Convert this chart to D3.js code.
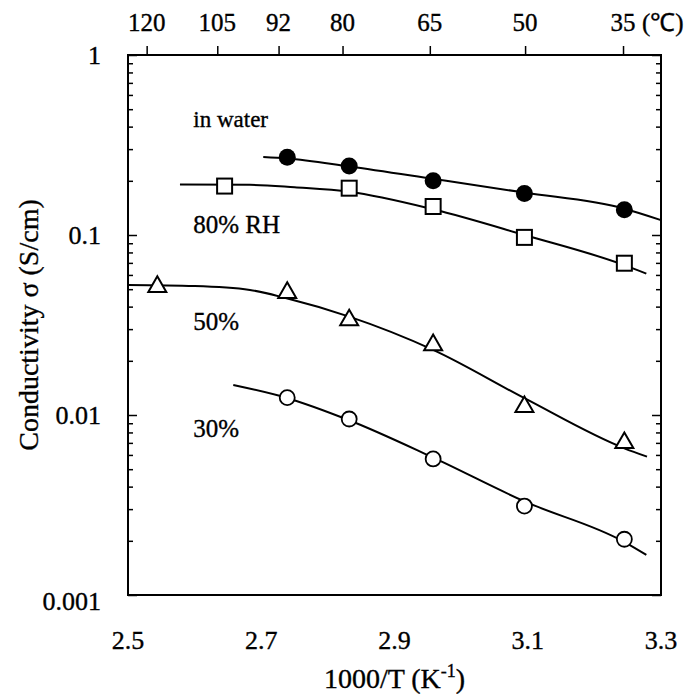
<!DOCTYPE html>
<html>
<head>
<meta charset="utf-8">
<script src="https://cdn.jsdelivr.net/npm/d3@7/dist/d3.min.js"></script>
<style>
  html, body { margin: 0; padding: 0; background: #fff; }
  svg text { font-family: "Liberation Serif", "Times New Roman", serif; fill: #000; stroke: #000; stroke-width: 0.35px; }
</style>
</head>
<body>
<div id="chart"></div>
<script>
// Conductivity vs inverse temperature, four humidity conditions

// measured points (x = 1000/T, y = S/cm)
const waterX = [2.739, 2.832, 2.958, 3.095, 3.245];
const waterY = [0.270, 0.242, 0.200, 0.170, 0.138];
const rh80X = [2.645, 2.832, 2.958, 3.095, 3.245];
const rh80Y = [0.187, 0.182, 0.144, 0.097, 0.0697];
const rh50X = [2.544, 2.739, 2.832, 2.958, 3.095, 3.245];
const rh50Y = [0.0516, 0.0478, 0.0337, 0.0245, 0.0111, 0.0070];
const rh30X = [2.739, 2.832, 2.958, 3.095, 3.245];
const rh30Y = [0.01248, 0.0095, 0.0057, 0.00312, 0.00204];

// fitted curves
const waterFitX = [2.703, 2.739, 2.832, 2.958, 3.095, 3.245, 3.300];
const waterFitY = [0.271, 0.266, 0.240, 0.205, 0.172, 0.140, 0.121];
const rh80FitX = [2.578, 2.683, 2.750, 2.832, 2.958, 3.095, 3.245, 3.278];
const rh80FitY = [0.191, 0.190, 0.184, 0.174, 0.139, 0.100, 0.068, 0.061];
const rh50FitX = [2.500, 2.600, 2.683, 2.738, 2.832, 2.958, 3.095, 3.245, 3.279];
const rh50FitY = [0.0527, 0.0520, 0.0495, 0.0445, 0.0352, 0.0230, 0.0124, 0.00653, 0.00587];
const rh30FitX = [2.658, 2.737, 2.831, 2.955, 3.096, 3.244, 3.278];
const rh30FitY = [0.01468, 0.01248, 0.00938, 0.00587, 0.00330, 0.00198, 0.00167];

// axes
const xTicks = [2.5, 2.7, 2.9, 3.1, 3.3];
const yTicks = [1, 0.1, 0.01, 0.001];
const yTickLabels = ['1', '0.1', '0.01', '0.001'];
const tempTickX = [2.528, 2.634, 2.726, 2.822, 2.953, 3.096, 3.243];
const tempLabels = ['120', '105', '92', '80', '65', '50', '35'];

// curve labels
const labelText = ['in water', '80% RH', '50%', '30%'];
const labelX = [2.598, 2.598, 2.598, 2.598];
const labelY = [0.40, 0.103, 0.0297, 0.0075];

const width = 689, height = 696;
const margin = { top: 55, right: 28, bottom: 101, left: 128 };
const innerW = width - margin.left - margin.right;
const innerH = height - margin.top - margin.bottom;

const svg = d3.select('#chart').append('svg')
  .attr('width', width)
  .attr('height', height);

const g = svg.append('g').attr('transform', `translate(${margin.left},${margin.top})`);

const x = d3.scaleLinear().domain([2.5, 3.3]).range([0, innerW]);
const y = d3.scaleLog().domain([0.001, 1]).range([innerH, 0]);

// frame
g.append('rect')
  .attr('x', 0).attr('y', 0)
  .attr('width', innerW).attr('height', innerH)
  .attr('fill', 'none')
  .attr('stroke', '#000')
  .attr('stroke-width', 2);

// log ticks on left and right, pointing inward
const minorVals = [];
for (let e = -3; e < 0; e++) {
  for (let m = 2; m <= 9; m++) minorVals.push(m * Math.pow(10, e));
}
const yLeft = d3.axisLeft(y).tickValues(yTicks).tickSize(-9).tickFormat('');
const yLeftMinor = d3.axisLeft(y).tickValues(minorVals).tickSize(-5).tickFormat('');
const yRight = d3.axisRight(y).tickValues(yTicks).tickSize(-9).tickFormat('');
const yRightMinor = d3.axisRight(y).tickValues(minorVals).tickSize(-5).tickFormat('');

[[yLeft, 0], [yLeftMinor, 0], [yRight, innerW], [yRightMinor, innerW]].forEach(([ax, tx]) => {
  const a = g.append('g').attr('transform', `translate(${tx},0)`).call(ax);
  a.select('.domain').remove();
  a.selectAll('line').attr('stroke', '#000').attr('stroke-width', 1.5);
});

// y labels
g.selectAll('text.ylab')
  .data(yTicks)
  .join('text')
  .attr('class', 'ylab')
  .attr('x', -27)
  .attr('y', (d, i) => y(d) + (i === 3 ? 15 : 9))
  .attr('text-anchor', 'end')
  .attr('font-size', 26)
  .text((d, i) => yTickLabels[i]);

// x labels
g.selectAll('text.xlab')
  .data(xTicks)
  .join('text')
  .attr('class', 'xlab')
  .attr('x', d => x(d))
  .attr('y', innerH + 54)
  .attr('text-anchor', 'middle')
  .attr('font-size', 26)
  .text(d => d3.format('.1f')(d));

// top temperature axis
const xTop = d3.axisTop(x).tickValues(tempTickX).tickSize(9).tickFormat('');
const topAx = g.append('g').call(xTop);
topAx.select('.domain').remove();
topAx.selectAll('line').attr('stroke', '#000').attr('stroke-width', 1.5);

g.selectAll('text.tlab')
  .data(tempTickX)
  .join('text')
  .attr('class', 'tlab')
  .attr('x', d => x(d))
  .attr('y', -24)
  .attr('text-anchor', 'middle')
  .attr('font-size', 25)
  .text((d, i) => tempLabels[i]);

g.append('text')
  .attr('x', x(tempTickX[6]) + 19)
  .attr('y', -24)
  .attr('font-size', 25)
  .text('(\u2103)');

// axis titles
svg.append('text')
  .attr('x', margin.left + innerW / 2)
  .attr('y', 688)
  .attr('text-anchor', 'middle')
  .attr('font-size', 28)
  .html('1000/T (K<tspan dy="-11" font-size="18">-1</tspan><tspan dy="11">)</tspan>');

svg.append('text')
  .attr('transform', `translate(38,${margin.top + innerH / 2}) rotate(-90)`)
  .attr('text-anchor', 'middle')
  .attr('font-size', 28)
  .text('Conductivity \u03c3  (S/cm)');

// fitted curves
const line = d3.line()
  .x(d => x(d[0]))
  .y(d => y(d[1]))
  .curve(d3.curveMonotoneX);

const fits = [
  [waterFitX, waterFitY],
  [rh80FitX, rh80FitY],
  [rh50FitX, rh50FitY],
  [rh30FitX, rh30FitY]
];
fits.forEach(([fx, fy]) => {
  g.append('path')
    .datum(fx.map((v, i) => [v, fy[i]]))
    .attr('d', line)
    .attr('fill', 'none')
    .attr('stroke', '#000')
    .attr('stroke-width', 2);
});

// markers
const pts = (xs, ys) => xs.map((v, i) => [v, ys[i]]);

g.selectAll('circle.water')
  .data(pts(waterX, waterY))
  .join('circle')
  .attr('class', 'water')
  .attr('cx', d => x(d[0]))
  .attr('cy', d => y(d[1]))
  .attr('r', 8.5)
  .attr('fill', '#000');

g.selectAll('rect.rh80')
  .data(pts(rh80X, rh80Y))
  .join('rect')
  .attr('class', 'rh80')
  .attr('x', d => x(d[0]) - 7.5)
  .attr('y', d => y(d[1]) - 7.5)
  .attr('width', 15)
  .attr('height', 15)
  .attr('fill', '#fff')
  .attr('stroke', '#000')
  .attr('stroke-width', 2);

const tri = d3.symbol().type(d3.symbolTriangle).size(140);
g.selectAll('path.rh50')
  .data(pts(rh50X, rh50Y))
  .join('path')
  .attr('class', 'rh50')
  .attr('d', tri)
  .attr('transform', d => `translate(${x(d[0])},${y(d[1])})`)
  .attr('fill', '#fff')
  .attr('stroke', '#000')
  .attr('stroke-width', 2);

g.selectAll('circle.rh30')
  .data(pts(rh30X, rh30Y))
  .join('circle')
  .attr('class', 'rh30')
  .attr('cx', d => x(d[0]))
  .attr('cy', d => y(d[1]))
  .attr('r', 7.5)
  .attr('fill', '#fff')
  .attr('stroke', '#000')
  .attr('stroke-width', 1.8);

// curve labels
g.selectAll('text.clab')
  .data(labelText)
  .join('text')
  .attr('class', 'clab')
  .attr('x', (d, i) => x(labelX[i]))
  .attr('y', (d, i) => y(labelY[i]))
  .attr('font-size', (d, i) => i === 0 ? 23 : 25)
  .text(d => d);
</script>
</body>
</html>
